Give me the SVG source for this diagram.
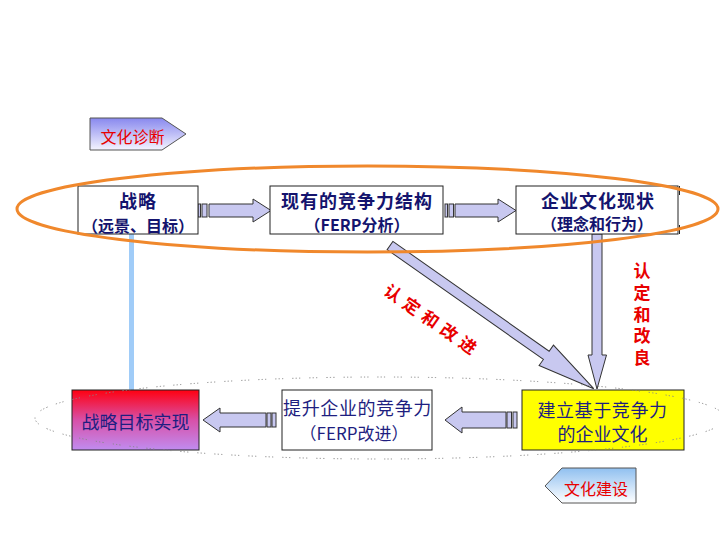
<svg xmlns="http://www.w3.org/2000/svg" width="720" height="540" viewBox="0 0 720 540">
<defs>
<style>
.box{stroke:#222;stroke-width:1}
.arr{fill:#C8C8F0;stroke:#333;stroke-width:1}
.t1{font-family:"Noto Sans CJK SC","Liberation Sans",sans-serif;font-weight:bold;fill:#14146E;text-anchor:middle}
.t2{font-family:"Noto Sans CJK SC","Liberation Sans",sans-serif;font-weight:normal;fill:#1E1E80;text-anchor:middle}
.red{font-family:"Noto Sans CJK SC","Liberation Sans",sans-serif;font-weight:bold;fill:#E80000;text-anchor:middle;font-size:17px}
.lab{font-family:"Noto Sans CJK SC","Liberation Sans",sans-serif;fill:#E80000;text-anchor:middle;font-size:16px}
</style>
<linearGradient id="gGoal" x1="0" y1="0" x2="0" y2="1">
<stop offset="0" stop-color="#FF0010"/>
<stop offset="0.5" stop-color="#D850A8"/>
<stop offset="1" stop-color="#C08CF0"/>
</linearGradient>
<linearGradient id="gDiag" x1="0" y1="0" x2="0" y2="1">
<stop offset="0" stop-color="#8888EE"/>
<stop offset="1" stop-color="#F4F4FF"/>
</linearGradient>
<linearGradient id="gBuild" x1="0" y1="0" x2="0" y2="1">
<stop offset="0" stop-color="#90C0F0"/>
<stop offset="1" stop-color="#FFFFFF"/>
</linearGradient>
</defs>
<rect x="0" y="0" width="720" height="540" fill="#FFFFFF"/>

<g id="connectors">
<rect x="129" y="234" width="5" height="156" fill="#A0CCF8"/>
<rect class="arr" x="198" y="204" width="2.5" height="13"/>
<rect class="arr" x="202" y="204" width="5" height="13"/>
<path class="arr" d="M209,204 H253 V199 L271,210.5 L253,222 V217 H209 Z"/>
<rect class="arr" x="445" y="204" width="2.5" height="13"/>
<rect class="arr" x="449" y="204" width="4.5" height="13"/>
<path class="arr" d="M455,204 H498 V199 L516,210.5 L498,222 V217 H455 Z"/>
<path class="arr" d="M592,234 V355 H588 L597,389 L606.5,355 H602 V234 Z"/>
<path class="arr" d="M0,-5 H191 V-12.5 L249,0 L191,12.5 V5 H0 Z" transform="translate(390,245.5) rotate(35.1)"/>
<path class="arr" d="M506,412 H462 V407 L445,420 L462,433 V428 H506 Z"/>
<rect class="arr" x="507" y="412" width="4.5" height="16"/>
<rect class="arr" x="513" y="412" width="4" height="16"/>
<path class="arr" d="M266,413 H220 V408 L203,420 L220,432 V427 H266 Z"/>
<rect class="arr" x="267" y="413" width="4" height="14"/>
<rect class="arr" x="272" y="413" width="4" height="14"/>
</g>

<g id="node-strategy">
<rect class="box" x="78" y="186" width="120" height="48" fill="#FFFFFF"/>
<text class="t1" x="138" y="208" font-size="18" letter-spacing="1">战略</text>
<text class="t1" x="138" y="231.5" font-size="16">（远景、目标）</text>
</g>

<g id="node-competence">
<rect class="box" x="270" y="186" width="173" height="48" fill="#FFFFFF"/>
<text class="t1" x="357" y="208" font-size="18" letter-spacing="1">现有的竞争力结构</text>
<text class="t1" x="357" y="230.5" font-size="16">（FERP分析）</text>
</g>

<g id="node-culture-now">
<rect class="box" x="516" y="186" width="162" height="48" fill="#FFFFFF"/>
<line x1="679.5" y1="186" x2="679.5" y2="195" stroke="#222" stroke-width="1"/>
<line x1="679.5" y1="225" x2="679.5" y2="234" stroke="#222" stroke-width="1"/>
<text class="t1" x="598" y="207.5" font-size="18" letter-spacing="1">企业文化现状</text>
<text class="t1" x="597" y="230" font-size="16">（理念和行为）</text>
</g>

<g id="node-goal">
<rect class="box" x="72" y="390" width="127" height="60" fill="url(#gGoal)"/>
<text class="t2" x="135.5" y="428.5" font-size="18">战略目标实现</text>
</g>

<g id="node-improve">
<rect class="box" x="282" y="390" width="150" height="60" fill="#FFFFFF"/>
<text class="t2" x="357.5" y="415" font-size="18" letter-spacing="0.6">提升企业的竞争力</text>
<text class="t2" x="354" y="439.5" font-size="17">（FERP改进）</text>
</g>

<g id="node-build">
<rect class="box" x="522" y="390" width="162" height="60" fill="#FFFF00"/>
<text class="t2" x="602.5" y="416.5" font-size="18" letter-spacing="0.6">建立基于竞争力</text>
<text class="t2" x="602.5" y="440.5" font-size="18">的企业文化</text>
</g>

<g id="label-diagnose">
<polygon points="90,118 162,118 186,134 162,150 90,150" fill="url(#gDiag)" stroke="#555" stroke-width="1"/>
<text class="lab" x="132.5" y="143">文化诊断</text>
</g>

<g id="label-build">
<polygon points="545,486 562,468 636,468 636,503 562,503" fill="url(#gBuild)" stroke="#555" stroke-width="1"/>
<text class="lab" x="596" y="495">文化建设</text>
</g>

<g id="label-confirm-improve">
<text class="red" transform="translate(430.5,319) rotate(34.7)" x="-45.6 -22.8 0 22.8 45.6" y="6.4">认定和改进</text>
</g>

<g id="label-confirm-better">
<text class="red" x="642 642 642 642 642" y="276.5 298.5 320.5 342 364">认定和改良</text>
</g>

<g id="ellipse-top">
<ellipse cx="367.5" cy="209" rx="350.5" ry="43" fill="none" stroke="#F0882C" stroke-width="3"/>
</g>

<g id="ellipse-bottom">
<ellipse cx="380" cy="418" rx="345" ry="41" fill="none" stroke="#888" stroke-width="1" stroke-dasharray="1.2 2.2 1.2 2.2 1.2 9"/>
</g>
</svg>
